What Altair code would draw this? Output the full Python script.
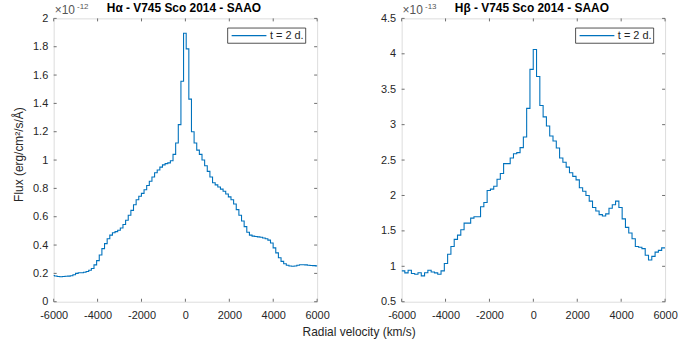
import altair as alt
import pandas as pd

# ---------------- data ----------------
# H-alpha: flux in units of 1e-12, bins of 120 km/s, first bin left edge -6084 km/s
HA_V0, HA_DV = -6084, 120
HA_FLUX = [0.185, 0.182, 0.178, 0.176, 0.178, 0.18, 0.181, 0.183, 0.19, 0.2,
           0.204, 0.205, 0.208, 0.213, 0.222, 0.235, 0.26, 0.29, 0.33, 0.375,
           0.41, 0.445, 0.47, 0.487, 0.495, 0.505, 0.52, 0.545, 0.575, 0.61,
           0.645, 0.685, 0.72, 0.745, 0.765, 0.79, 0.82, 0.85, 0.88, 0.91,
           0.93, 0.95, 0.966, 0.975, 0.98, 0.995, 1.04, 1.12, 1.25, 1.556,
           1.895, 1.785, 1.43, 1.2, 1.12, 1.07, 1.04, 1.0, 0.96, 0.92,
           0.88, 0.84, 0.825, 0.81, 0.795, 0.78, 0.76, 0.74, 0.72, 0.69,
           0.65, 0.61, 0.57, 0.53, 0.49, 0.47, 0.463, 0.46, 0.458, 0.455,
           0.45, 0.445, 0.435, 0.415, 0.38, 0.345, 0.31, 0.285, 0.268, 0.258,
           0.252, 0.25, 0.252, 0.258, 0.261, 0.261, 0.26, 0.258, 0.256, 0.255,
           0.253, 0.253]

# H-beta: flux in units of 1e-13, bins of 150 km/s, first bin left edge -6005 km/s
HB_V0, HB_DV = -6005, 150
HB_FLUX = [0.935, 0.907, 0.944, 0.898, 0.888, 0.91, 0.865, 0.91, 0.944, 0.92,
           0.907, 0.888, 0.935, 1.04, 1.17, 1.28, 1.38, 1.44, 1.515, 1.61,
           1.61, 1.68, 1.70, 1.70, 1.84, 1.90, 2.07, 2.09, 2.13, 2.23,
           2.31, 2.45, 2.45, 2.53, 2.59, 2.605, 2.675, 2.825, 3.23, 3.78,
           4.06, 3.68, 3.27, 3.11, 2.98, 2.84, 2.77, 2.67, 2.53, 2.47,
           2.40, 2.32, 2.27, 2.22, 2.11, 2.06, 2.0, 1.92, 1.83, 1.78,
           1.73, 1.71, 1.74, 1.82, 1.87, 1.92, 1.83, 1.67, 1.55, 1.47,
           1.39, 1.28, 1.27, 1.25, 1.155, 1.09, 1.14, 1.20, 1.225, 1.26,
           1.26]

X_TICKS = [-6000, -4000, -2000, 0, 2000, 4000, 6000]
HA_Y_TICKS = [0, 0.2, 0.4, 0.6, 0.8, 1, 1.2, 1.4, 1.6, 1.8, 2]
HB_Y_TICKS = [0.5, 1, 1.5, 2, 2.5, 3, 3.5, 4, 4.5]

HA_TITLE = "H\u03b1 - V745 Sco 2014 - SAAO"
HB_TITLE = "H\u03b2 - V745 Sco 2014 - SAAO"
HA_EXP = "-12"
HB_EXP = "-13"
LEGEND_LABEL = "t = 2 d."
Y_TITLE = "Flux (erg/cm\u00b2/s/\u00c5)"
X_TITLE = "Radial velocity (km/s)"

# ---------------- style ----------------
W, H = 265, 285
FONT = "Liberation Sans"
BLUE = "#0072BD"
TXT = "#262626"
FRAME = "#6e6e6e"
TICK = 3


def text_layer(s, x, y, size=11, weight="normal", color=TXT, align="left",
               baseline="alphabetic", angle=0):
    return alt.Chart(pd.DataFrame({"t": [s]})).mark_text(
        align=align, baseline=baseline, font=FONT, fontSize=size,
        fontWeight=weight, color=color, angle=angle
    ).encode(x=alt.value(x), y=alt.value(y), text="t:N")


def panel(v0, dv, flux, ydom, yticks, title, exp, extra_labels):
    df = pd.DataFrame({"v": [v0 + dv * i for i in range(len(flux))], "f": flux})
    xs = alt.Scale(domain=[-6000, 6000], nice=False, zero=False)
    ys = alt.Scale(domain=ydom, nice=False, zero=False)
    xax = alt.Axis(values=X_TICKS, title=None, grid=False, domain=False, ticks=False,
                   tickSize=0, labelPadding=8, labelFont=FONT, labelFontSize=11,
                   labelColor=TXT, labelExpr="'' + datum.value", labelFlush=False,
                   labelOverlap=False)
    yax = alt.Axis(values=yticks, title=None, grid=False, domain=False, ticks=False,
                   tickSize=0, labelPadding=6, labelFont=FONT, labelFontSize=11,
                   labelColor=TXT, labelExpr="'' + datum.value", labelFlush=False,
                   labelOverlap=False)
    X = alt.X("v:Q", scale=xs, axis=xax)
    Y = alt.Y("f:Q", scale=ys, axis=yax)

    line = alt.Chart(df).mark_line(interpolate="step-after", clip=True, color=BLUE,
                                   strokeWidth=1.1).encode(x=X, y=Y)

    xt = alt.Chart(pd.DataFrame({"v": X_TICKS}))
    yt = alt.Chart(pd.DataFrame({"f": yticks}))
    ticks = [
        xt.mark_rule(color=FRAME, strokeWidth=1).encode(x=X, y=alt.value(H), y2=alt.value(H - TICK)),
        xt.mark_rule(color=FRAME, strokeWidth=1).encode(x=X, y=alt.value(0), y2=alt.value(TICK)),
        yt.mark_rule(color=FRAME, strokeWidth=1).encode(y=Y, x=alt.value(0), x2=alt.value(TICK)),
        yt.mark_rule(color=FRAME, strokeWidth=1).encode(y=Y, x=alt.value(W - TICK), x2=alt.value(W)),
    ]

    one = alt.Chart(pd.DataFrame({"t": [0]}))
    legend = [
        one.mark_rect(fill="white", stroke=TXT, strokeWidth=0.8).encode(
            x=alt.value(175), x2=alt.value(253.5), y=alt.value(9.7), y2=alt.value(25)),
        one.mark_rule(color=BLUE, strokeWidth=1.1).encode(
            x=alt.value(179), x2=alt.value(214), y=alt.value(17.3)),
        text_layer(LEGEND_LABEL, 217.5, 17.3, size=11, baseline="middle"),
    ]

    header = [
        text_layer("\u00d710", 1, -4.5, size=12, color="#555555"),
        text_layer(exp, 23.5, -9, size=8, color="#555555"),
        text_layer(title, 131, -6, size=12, weight="bold", color="#000000", align="center"),
    ]

    layers = [line] + ticks + legend + header + extra_labels
    return alt.layer(*layers).properties(width=W, height=H)


left = panel(HA_V0, HA_DV, HA_FLUX, [0, 2], HA_Y_TICKS, HA_TITLE, HA_EXP, [
    text_layer(Y_TITLE, -34.7, 137, size=12, align="center", baseline="middle", angle=270),
    text_layer(X_TITLE, 307.3, 319.5, size=12, align="center"),
])
right = panel(HB_V0, HB_DV, HB_FLUX, [0.5, 4.5], HB_Y_TICKS, HB_TITLE, HB_EXP, [])

chart = alt.hconcat(left, right, spacing=85, bounds="flush").properties(
    padding={"left": 12, "top": 0.5, "right": 0, "bottom": 0}
).configure_view(stroke=FRAME, strokeWidth=1).configure(background="white")

chart.save("out.html", embed_options={"renderer": "svg", "actions": False})
